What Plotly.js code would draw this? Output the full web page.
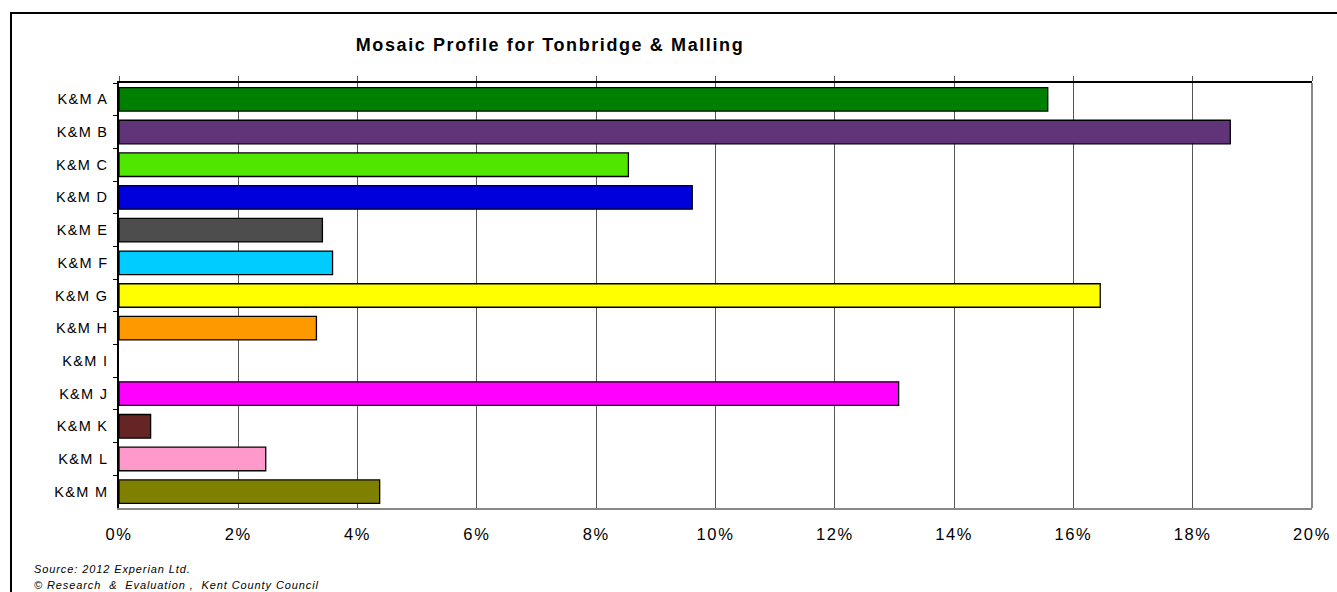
<!DOCTYPE html>
<html>
<head>
<meta charset="utf-8">
<script src="https://cdn.plot.ly/plotly-3.0.1.min.js"></script>
<style>
  html, body { margin: 0; padding: 0; background: #fff; }
  #wrap { position: relative; width: 1337px; height: 592px; overflow: hidden; }
  #frame { position: absolute; left: 10px; top: 12px; width: 1400px; height: 700px;
           border-left: 2px solid #000; border-top: 2px solid #000; pointer-events: none; }
  #chart { position: absolute; left: 0; top: 0; width: 1337px; height: 592px; }
  .gtitle { letter-spacing: 1.6px; }
  .ytick text { letter-spacing: 1.3px; }
  .xtick text { letter-spacing: 1.6px; }
  .annotation-text { letter-spacing: 0.9px; }
</style>
</head>
<body>
<div id="wrap">
  <div id="chart"></div>
  <div id="frame"></div>
</div>
<script>
const categories = ['K&M A','K&M B','K&M C','K&M D','K&M E','K&M F','K&M G','K&M H','K&M I','K&M J','K&M K','K&M L','K&M M'];
const values = [0.1557, 0.1863, 0.0854, 0.0961, 0.0341, 0.0358, 0.1645, 0.0331, 0, 0.1307, 0.0053, 0.0246, 0.0437];
const colors = ['#008000','#613479','#50E600','#0000DD','#4D4D4D','#00CCFF','#FFFF00','#FF9900','#FFFFFF','#FF00FF','#652525','#FF99CC','#808000'];
const tickVals = [0,0.02,0.04,0.06,0.08,0.10,0.12,0.14,0.16,0.18,0.20];
const tickText = ['0%','2%','4%','6%','8%','10%','12%','14%','16%','18%','20%'];
const titleText = 'Mosaic Profile for Tonbridge & Malling';
const sourceLines = ['Source: 2012 Experian Ltd.', '\u00A9 Research  &  Evaluation ,  Kent County Council'];

const font = 'Liberation Sans, Arial, Helvetica, sans-serif';

const data = [
  {
    type: 'bar', orientation: 'h',
    y: categories, x: values,
    marker: { color: colors, line: { color: '#000', width: values.map(v => v > 0 ? 1.3 : 0) } },
    width: 0.72,
    hoverinfo: 'x+y'
  },
  {
    type: 'scatter', mode: 'lines', x: [0, 0.2], y: [categories[0], categories[0]],
    xaxis: 'x2', line: { width: 0 }, hoverinfo: 'skip', showlegend: false
  }
];

const layout = {
  width: 1337, height: 592,
  margin: { l: 119, r: 25, t: 83, b: 84 },
  paper_bgcolor: '#fff', plot_bgcolor: '#fff',
  showlegend: false,
  title: {
    text: '<b>' + titleText + '</b>',
    font: { family: font, size: 18, color: '#000' },
    x: 550 / 1337, xanchor: 'center', xref: 'container',
    y: 1 - 45 / 592, yanchor: 'middle', yref: 'container'
  },
  xaxis: {
    range: [0, 0.2], tickvals: tickVals, ticktext: tickText,
    showgrid: true, gridcolor: '#555', gridwidth: 1,
    zeroline: false, showline: true, linecolor: '#888', linewidth: 1.5,
    ticks: '', tickfont: { family: font, size: 16.5, color: '#000' },
    ticklabelstandoff: 10, fixedrange: true
  },
  xaxis2: {
    overlaying: 'x', side: 'top', range: [0, 0.2], tickvals: tickVals,
    showticklabels: false, ticks: 'outside', ticklen: 5, tickcolor: '#555', tickwidth: 1,
    showline: true, linecolor: '#000', linewidth: 1.5, showgrid: false, zeroline: false
  },
  yaxis: {
    type: 'category', range: [12.5, -0.5],
    showline: true, linecolor: '#000', linewidth: 1.5,
    ticks: 'outside', tickson: 'boundaries', ticklen: 4, tickcolor: '#000',
    tickfont: { family: font, size: 14.5, color: '#000' },
    ticklabelstandoff: 6,
    showgrid: false, zeroline: false, fixedrange: true
  },
  shapes: [
    { type: 'line', xref: 'paper', yref: 'paper', x0: 1, x1: 1, y0: 0, y1: 1,
      line: { color: '#888', width: 2 } }
  ],
  annotations: [
    { text: '<i>' + sourceLines[0] + '</i>', xref: 'paper', yref: 'paper',
      x: (32 - 119) / 1193, y: (508 - 569) / 425, xanchor: 'left', yanchor: 'middle',
      showarrow: false, font: { family: font, size: 11, color: '#000' } },
    { text: '<i>' + sourceLines[1] + '</i>', xref: 'paper', yref: 'paper',
      x: (32 - 119) / 1193, y: (508 - 585) / 425, xanchor: 'left', yanchor: 'middle',
      showarrow: false, font: { family: font, size: 11, color: '#000' } }
  ]
};

Plotly.newPlot('chart', data, layout, { displayModeBar: false });
</script>
</body>
</html>
